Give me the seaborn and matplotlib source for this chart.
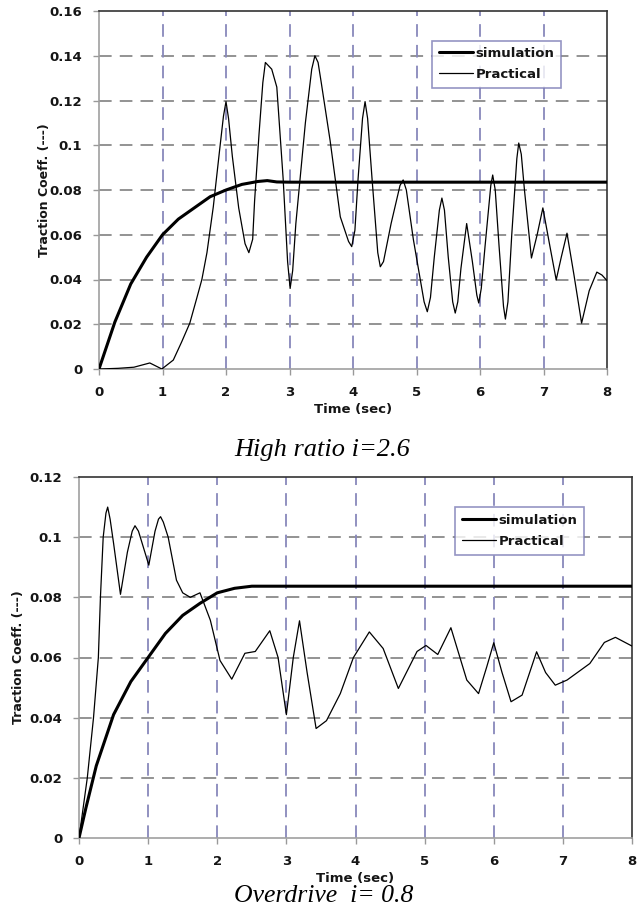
import matplotlib
matplotlib.use("Agg")
import matplotlib.pyplot as plt
import seaborn as sns
import pandas as pd

# ---- data: High ratio i=2.6 ----
top_sim_t = [0, 0.25, 0.5, 0.75, 1.0, 1.25, 1.5, 1.75, 2.0, 2.25, 2.5, 2.65, 2.8, 3, 4, 5, 6, 7, 8]
top_sim_v = [0, 0.021, 0.038, 0.050, 0.060, 0.067, 0.072, 0.077, 0.080, 0.0825, 0.0838, 0.0842, 0.0836, 0.0835, 0.0835, 0.0835, 0.0835, 0.0835, 0.0835]
top_prac_t = [0, 0.3, 0.55, 0.8, 0.99, 1.17, 1.3, 1.43, 1.54, 1.62, 1.70, 1.80, 1.9, 1.96, 2.0, 2.04, 2.1, 2.2, 2.3, 2.36,
              2.42, 2.45, 2.52, 2.58, 2.62, 2.72, 2.80, 2.9, 2.97, 3.01, 3.05, 3.1, 3.25, 3.35, 3.40, 3.45, 3.5, 3.64, 3.8, 3.93, 3.98, 4.03, 4.08, 4.15, 4.19,
              4.23, 4.3, 4.39, 4.43, 4.48, 4.6, 4.74, 4.79, 4.84, 4.95, 5.12, 5.17, 5.22, 5.28, 5.36, 5.40, 5.44, 5.5, 5.57, 5.61, 5.65, 5.7, 5.79, 5.88, 5.95, 5.98, 6.02, 6.08, 6.17, 6.20,
              6.24, 6.3, 6.37, 6.40, 6.44, 6.5, 6.58, 6.61, 6.65, 6.7, 6.81, 6.9, 6.99, 7.1, 7.20, 7.28, 7.37, 7.48, 7.60, 7.72, 7.84,
              7.92, 8.0]
top_prac_v = [0, 0.0003, 0.0008, 0.0027, 0.0, 0.004, 0.012, 0.0205, 0.0317, 0.04, 0.052, 0.0725, 0.098, 0.113,
              0.1195, 0.112, 0.095, 0.072, 0.056, 0.052, 0.058, 0.075, 0.105, 0.128, 0.137, 0.134, 0.126, 0.085, 0.048, 0.036, 0.044, 0.065, 0.11, 0.134,
              0.140, 0.137, 0.128, 0.102, 0.068, 0.057, 0.0547, 0.062, 0.085, 0.112, 0.1195, 0.112, 0.085, 0.052, 0.0457, 0.048, 0.065, 0.082, 0.0845, 0.080, 0.058,
              0.030, 0.0256, 0.032, 0.05, 0.071, 0.0764, 0.071, 0.05, 0.030, 0.025, 0.030, 0.045, 0.065, 0.048, 0.033, 0.0295, 0.036, 0.055, 0.082, 0.0867, 0.080, 0.055,
              0.028, 0.0223, 0.030, 0.06, 0.094, 0.101, 0.096, 0.08, 0.0496, 0.06, 0.072, 0.055, 0.0398, 0.05, 0.0607, 0.042,
              0.0205, 0.035, 0.0433, 0.042, 0.0395]

# ---- data: Overdrive i=0.8 ----
bot_sim_t = [0, 0.1, 0.25, 0.5, 0.75, 1.0, 1.25, 1.5, 1.75, 2.0, 2.25, 2.5, 3, 4, 5, 6, 7, 8]
bot_sim_v = [0, 0.010, 0.024, 0.041, 0.052, 0.060, 0.068, 0.074, 0.078, 0.0815, 0.083, 0.0837, 0.0837,
             0.0837, 0.0837, 0.0837, 0.0837, 0.0837]
bot_prac_t = [0, 0.12, 0.21, 0.28, 0.31, 0.35, 0.39, 0.415, 0.45, 0.5, 0.60, 0.7, 0.77, 0.81, 0.86, 0.9, 1.01, 1.1, 1.15, 1.18, 1.22, 1.29,
              1.41, 1.5, 1.61, 1.75, 1.9, 2.04, 2.21, 2.40, 2.55, 2.76, 2.88, 3.0, 3.1, 3.19, 3.3, 3.43,
              3.58, 3.78, 3.97, 4.20, 4.40, 4.62, 4.89, 5.02, 5.19, 5.38, 5.61, 5.78, 5.9, 6.0, 6.12,
              6.25, 6.41, 6.62, 6.75, 6.89, 7.06, 7.39, 7.6, 7.76, 8.0]
bot_prac_v = [0, 0.02, 0.04, 0.06, 0.08, 0.1, 0.108, 0.110, 0.106, 0.098, 0.081, 0.095, 0.102, 0.1038, 0.102, 0.099, 0.0907, 0.102,
              0.106, 0.1068, 0.105, 0.100, 0.0857, 0.0815, 0.080, 0.0815, 0.0724, 0.059, 0.0528, 0.0614, 0.062,
              0.0689, 0.06, 0.041, 0.06, 0.0722, 0.055, 0.0364, 0.039, 0.048, 0.060, 0.0685, 0.063,
              0.0497, 0.062, 0.064, 0.061, 0.0699, 0.0525, 0.048, 0.057, 0.0649, 0.055, 0.0453, 0.0475,
              0.0619, 0.055, 0.0508, 0.0525, 0.058, 0.065, 0.0667, 0.0638]

x_ticks = [0, 1, 2, 3, 4, 5, 6, 7, 8]
top_yticks = [0, 0.02, 0.04, 0.06, 0.08, 0.1, 0.12, 0.14, 0.16]
top_ylabels = ["0", "0.02", "0.04", "0.06", "0.08", "0.1", "0.12", "0.14", "0.16"]
bot_yticks = [0, 0.02, 0.04, 0.06, 0.08, 0.1, 0.12]
bot_ylabels = ["0", "0.02", "0.04", "0.06", "0.08", "0.1", "0.12"]

sns.set_theme(style="white")
plt.rcParams["font.family"] = ["DejaVu Sans"]

fig = plt.figure(figsize=(6.38, 9.18), dpi=100)
ax1 = fig.add_axes([99/638, 1-369/918, 508/638, 358/918])
ax2 = fig.add_axes([79/638, 1-838/918, 553/638, 361/918])

TXT = "#151515"

def draw(ax, st, sv, pt, pv, yticks, ylabels, ymax):
    dsim = pd.DataFrame({"t": st, "v": sv})
    dpr = pd.DataFrame({"t": pt, "v": pv})
    for y in yticks[1:-1]:
        ax.axhline(y, color="#8a8a8a", lw=1.3, dashes=(7, 4.5), zorder=1)
    for x in x_ticks[1:-1]:
        ax.axvline(x, color="#8888bb", lw=1.3, dashes=(7, 4.5), zorder=1)
    sns.lineplot(data=dsim, x="t", y="v", ax=ax, color="black", lw=2.2,
                 label="simulation", zorder=3, estimator=None, sort=False)
    sns.lineplot(data=dpr, x="t", y="v", ax=ax, color="black", lw=0.9,
                 label="Practical", zorder=3, estimator=None, sort=False)
    ax.set_xlim(0, 8)
    ax.set_ylim(0, ymax)
    ax.set_xticks(x_ticks)
    ax.set_xticklabels([str(x) for x in x_ticks], fontsize=9.5, fontweight="bold", color=TXT)
    ax.set_yticks(yticks)
    ax.set_yticklabels(ylabels, fontsize=9.5, fontweight="bold", color=TXT)
    ax.tick_params(axis="both", which="major", length=4, width=1, color="#999999",
                   direction="out", bottom=True, left=True, pad=8)
    for s in ["left", "bottom"]:
        ax.spines[s].set_color("#a0a0a0")
        ax.spines[s].set_linewidth(1.2)
    for s in ["top", "right"]:
        ax.spines[s].set_color("#333333")
        ax.spines[s].set_linewidth(1.2)
    ax.set_xlabel("Time (sec)", fontsize=9.5, fontweight="bold", color=TXT, labelpad=1)
    ax.set_ylabel("Traction Coeff. (---)", fontsize=9, fontweight="bold", color=TXT, labelpad=6)
    ax.xaxis.set_label_coords(0.5, -0.095)

draw(ax1, top_sim_t, top_sim_v, top_prac_t, top_prac_v, top_yticks, top_ylabels, 0.16)
draw(ax2, bot_sim_t, bot_sim_v, bot_prac_t, bot_prac_v, bot_yticks, bot_ylabels, 0.12)

for ax, anchor in [(ax1, (0.923, 0.936)), (ax2, (0.925, 0.934))]:
    leg = ax.legend(loc="upper right", bbox_to_anchor=anchor, fancybox=False,
                    frameon=True, handlelength=2.6, handletextpad=0.2,
                    borderpad=0.5, labelspacing=0.6, prop={"weight": "bold", "size": 9.5})
    leg.get_frame().set_edgecolor("#7a7ab5")
    leg.get_frame().set_linewidth(1.2)
    for t in leg.get_texts():
        t.set_color(TXT)

ax1.yaxis.set_label_coords(-0.094, 0.5)
ax2.yaxis.set_label_coords(-0.098, 0.5)

fig.text(0.505, 1-450/918, "High ratio i=2.6", ha="center", va="center",
         fontsize=19, style="italic", family="Liberation Serif", color="black")
fig.text(0.508, 1-896/918, "Overdrive  i= 0.8", ha="center", va="center",
         fontsize=18.5, style="italic", family="Liberation Serif", color="black")

fig.savefig("out.png", dpi=100, facecolor="white")
